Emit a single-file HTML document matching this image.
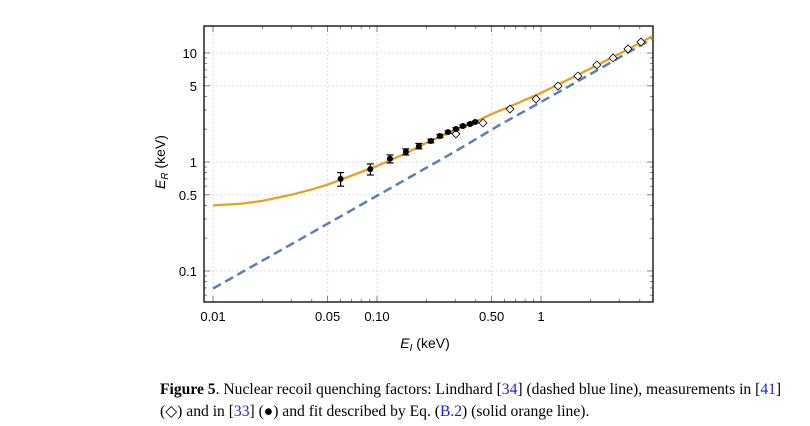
<!DOCTYPE html>
<html><head><meta charset="utf-8"><style>
body{margin:0;background:#fff;width:810px;height:426px;overflow:hidden}
svg{display:block}
.cap{position:absolute;left:160px;font-family:"Liberation Serif",serif;font-size:15.6px;color:#000;width:645px;line-height:22px}
.cap a{color:#1a1aff;text-decoration:none}
</style></head><body>
<svg id="chart" width="810" height="360" style="position:absolute;left:0;top:0"></svg>
<div class="cap" style="top:379px"><b>Figure 5</b>. Nuclear recoil quenching factors: Lindhard [<a>34</a>] (dashed blue line), measurements in [<a>41</a>]<br>(◇) and in [<a>33</a>] (●) and fit described by Eq. (<a>B.2</a>) (solid orange line).</div>
<script>
const filledE=[0.060,0.091,0.12,0.15,0.18,0.213,0.242,0.271,0.303,0.334,0.369,0.397];
const filledR=[0.70,0.86,1.07,1.24,1.40,1.56,1.73,1.88,2.01,2.14,2.23,2.33];
const filledErr=[0.10,0.10,0.09,0.08,0.08,0.06,0.06,0.05,0.05,0.05,0.05,0.04];
const diamE=[0.303,0.443,0.647,0.933,1.27,1.68,2.19,2.75,3.39,4.07];
const diamR=[1.81,2.28,3.06,3.78,4.98,6.15,7.76,9.0,10.9,12.6];
const lindE=[0.01,0.1,0.3,0.56,1,2,4.8];
const lindR=[0.069,0.49,1.25,2.19,3.55,6.4,13.6];
const fitE=[0.01,0.015,0.02,0.03,0.04,0.05,0.07,0.1,0.15,0.2,0.3,0.4,0.5,0.7,1,1.5,2,3,4.8];
const fitR=[0.40,0.415,0.44,0.50,0.56,0.62,0.75,0.92,1.2,1.5,1.95,2.35,2.75,3.4,4.3,5.8,7.2,9.8,14.3];
const xTicks=[0.01,0.05,0.1,0.5,1];
const xLabels=["0.01","0.05","0.10","0.50","1"];
const yTicks=[0.1,0.5,1,5,10];
const yLabels=["0.1","0.5","1","5","10"];
const NS="http://www.w3.org/2000/svg";
const svg=document.getElementById('chart');
const L=204,R=653,T=26,B=302;
const X=v=>377+164*(Math.log10(v)+1);
const Y=v=>162-109*Math.log10(v);
function mk(t,a,p){const e=document.createElementNS(NS,t);for(const k in a)e.setAttribute(k,a[k]);(p||svg).appendChild(e);return e;}
xTicks.forEach(v=>{const g=mk('line',{x1:X(v),x2:X(v),y1:T,y2:B,stroke:'#ddd','stroke-dasharray':'2,2'});

});
yTicks.forEach(v=>{const g=mk('line',{x1:L,x2:R,y1:Y(v),y2:Y(v),stroke:'#ddd','stroke-dasharray':'2,2'});

});
for(let d=-2;d<=0;d++)for(let m=1;m<10;m++){const v=m*Math.pow(10,d);const x=X(v);if(x<L||x>R)continue;const len=(m==1||m==5)?6:3;
mk('line',{x1:x,x2:x,y1:B,y2:B-len,stroke:'#666','stroke-width':0.8});mk('line',{x1:x,x2:x,y1:T,y2:T+len,stroke:'#666','stroke-width':0.8});}
for(let d=-2;d<=1;d++)for(let m=1;m<10;m++){const v=m*Math.pow(10,d);const y=Y(v);if(y<T||y>B)continue;const len=(m==1||m==5)?6:3;
mk('line',{x1:L,x2:L+len,y1:y,y2:y,stroke:'#666','stroke-width':0.8});mk('line',{x1:R,x2:R-len,y1:y,y2:y,stroke:'#666','stroke-width':0.8});}
const fr=mk('rect',{x:L,y:T,width:R-L,height:B-T,fill:'none',stroke:'#000','stroke-width':1.3});


xTicks.forEach((v,i)=>{const t=mk('text',{x:X(v),y:321,'text-anchor':'middle','font-family':'Liberation Sans,sans-serif','font-size':13});t.textContent=xLabels[i];

});
yTicks.forEach((v,i)=>{const t=mk('text',{x:197,y:Y(v)+5,'text-anchor':'end','font-family':'Liberation Sans,sans-serif','font-size':13});t.textContent=yLabels[i];

});
const xt=mk('text',{x:425,y:348,'text-anchor':'middle','font-family':'Liberation Sans,sans-serif','font-size':14});
xt.innerHTML='<tspan font-style="italic">E</tspan><tspan font-style="italic" font-size="10" dy="3">I</tspan><tspan dy="-3"> (keV)</tspan>';


const yt=mk('text',{x:0,y:0,'text-anchor':'middle','font-family':'Liberation Sans,sans-serif','font-size':14,transform:'translate(165,162) rotate(-90)'});
yt.innerHTML='<tspan font-style="italic">E</tspan><tspan font-style="italic" font-size="10" dy="3">R</tspan><tspan dy="-3"> (keV)</tspan>';


const lp=mk('polyline',{points:lindE.map((e,i)=>X(e)+','+Y(lindR[i])).join(' '),fill:'none',stroke:'#5b7fb8','stroke-width':2.5,'stroke-dasharray':'9,5'});


const fp=mk('polyline',{points:fitE.map((e,i)=>X(e)+','+Y(fitR[i])).join(' '),fill:'none',stroke:'#e8a020','stroke-width':2.3});


diamE.forEach((e,i)=>{const x=X(e),y=Y(diamR[i]);const d=mk('polygon',{points:`${x},${y-4} ${x+4},${y} ${x},${y+4} ${x-4},${y}`,fill:'#fff',stroke:'#000','stroke-width':0.8});

});
filledE.forEach((e,i)=>{const x=X(e),y=Y(filledR[i]);const y1=Y(filledR[i]+filledErr[i]),y2=Y(filledR[i]-filledErr[i]);
const g=mk('g',{});


mk('line',{x1:x,x2:x,y1:y1,y2:y2,stroke:'#000','stroke-width':1.2},g);
mk('line',{x1:x-3.5,x2:x+3.5,y1:y1,y2:y1,stroke:'#000','stroke-width':1.2},g);
mk('line',{x1:x-3.5,x2:x+3.5,y1:y2,y2:y2,stroke:'#000','stroke-width':1.2},g);
mk('circle',{cx:x,cy:y,r:3,fill:'#000'},g);});
</script>
</body></html>
